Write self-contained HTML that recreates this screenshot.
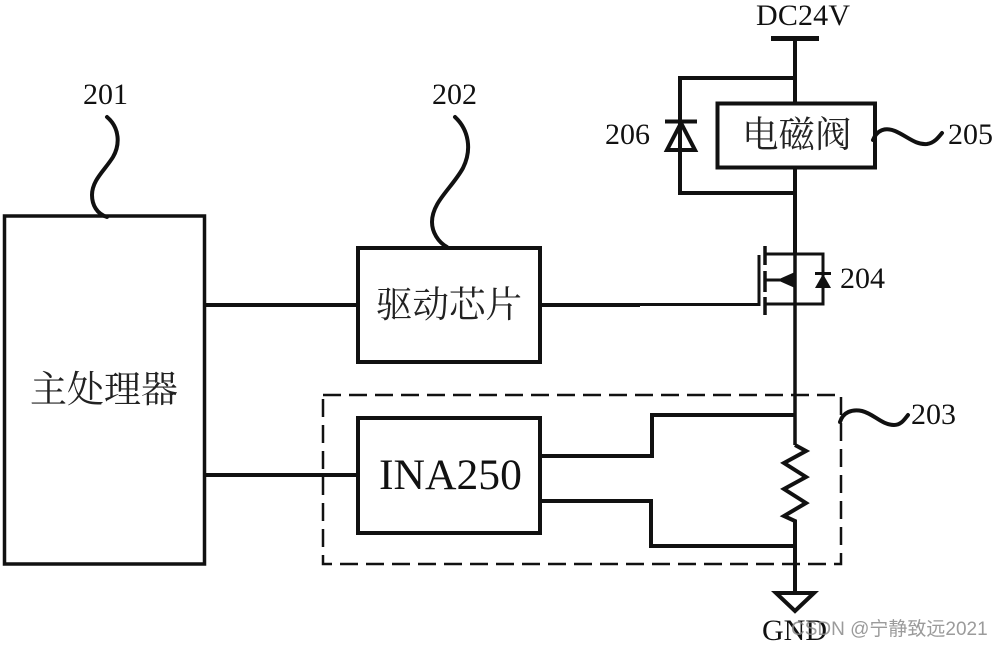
<!DOCTYPE html>
<html><head><meta charset="utf-8"><style>
html,body{margin:0;padding:0;background:#fff}
svg{display:block}
.t{font-family:"Liberation Serif",serif;fill:#111}
.c{font-family:"Liberation Serif","Noto Serif CJK SC",serif;fill:#222;font-size:36.500px}
</style></head><body>
<svg width="1000" height="646" viewBox="0 0 1000 646" xmlns="http://www.w3.org/2000/svg">
<rect width="1000" height="646" fill="#fff"/>
<g fill="none" stroke="#111" stroke-width="4">
<rect x="4.500" y="216" width="200" height="348" stroke-width="3.500"/>
<rect x="358" y="248" width="182" height="114"/>
<rect x="358" y="418" width="182" height="115"/>
<rect x="717.500" y="103.500" width="157.500" height="64"/>
<rect x="323" y="395" width="518" height="169" stroke-width="2.500" stroke-dasharray="18 8"/>
<path d="M204 305H358M204 475H358"/>
<path d="M540 305H640M540 456H652V415H795M540 501H651V546H795" />
<path d="M771 38.500H819" stroke-width="5"/>
<path d="M795 39V103M795 168V254"/>
<path d="M795 78H680V193H795"/>
<path d="M665 121.500H697" stroke-width="4"/>
<path d="M681 123L667 150H695Z" stroke-width="4"/>
<path d="M640 304.500H759V255" stroke-width="3"/>
<path d="M765 254H823V304H765" stroke-width="3"/>
<path d="M765 246V265M765 271V292M765 297V315" stroke-width="3.500"/>
<path d="M765 280H780" stroke-width="3"/>
<path d="M795 254V445" stroke-width="3.500"/>
<path d="M823 254V304" stroke-width="3"/>
<path d="M815 273.500H831" stroke-width="3"/>
<path d="M795 445L806 451L784 463L806 477L784 489L806 503L784 516L795 521V593" stroke-width="4"/>
<path d="M776 593H814L795 611Z" stroke-width="4"/>
<g stroke-linecap="round" stroke-width="4">
<path d="M107 117C120 128 120 145 113 157C105 170 92 180 92 195C92 205 97 214 107 217"/>
<path d="M455 117C469 130 472 150 463 168C452 188 432 202 432 222C432 232 438 242 447 247"/>
<path d="M873 140C877 130 885 127 895 131C907 136 915 145 927 144C934 143 938 138 942 133"/>
<path d="M840 422C843 412 852 409 862 411C874 414 882 425 894 425C901 425 904 420 908 415"/>
</g>
</g>
<path d="M777 280L795 272V288Z" fill="#111"/>
<path d="M823 274L815 288H831Z" fill="#111"/>
<g class="t" font-size="30">
<text x="756" y="25" textLength="94">DC24V</text>
<text x="83" y="104">201</text>
<text x="432" y="104">202</text>
<text x="911" y="424">203</text>
<text x="840" y="288">204</text>
<text x="948" y="144">205</text>
<text x="605" y="144">206</text>
<text x="762" y="640" font-size="30">GND</text>
<text x="379" y="489" font-size="43.600">INA250</text>
</g>
<text class="c" x="30" y="402" style="font-size:37px">主处理器</text>
<text class="c" x="376" y="317">驱动芯片</text>
<text class="c" x="742" y="147">电磁阀</text>
<text x="791" y="635" font-family="Liberation Sans,'Noto Sans CJK SC',sans-serif" font-size="19" fill="#8a8a8a" fill-opacity="0.85">CSDN @宁静致远2021</text>
</svg>
</body></html>
